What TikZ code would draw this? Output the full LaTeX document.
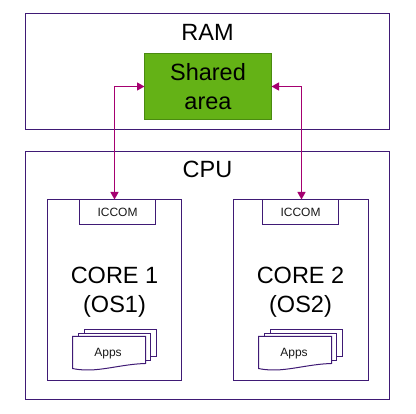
\documentclass[tikz,border=0pt]{standalone}
\usepackage{fontspec}
\setmainfont{Liberation Sans}
\usetikzlibrary{arrows.meta}
\definecolor{boxline}{HTML}{3F1A75}
\definecolor{arrowc}{HTML}{A50070}
\definecolor{sharedfill}{HTML}{64B216}
\definecolor{sharedline}{HTML}{4A8A10}
\tikzset{
  x=1pt,y=-1pt,
  every node/.style={outer sep=0pt},
  framebox/.style={draw=boxline,line width=1pt,fill=white},
  corebox/.style={draw=boxline,line width=1pt,inner sep=0pt,anchor=north west},
  big/.style={font=\fontsize{23.5}{29.5}\selectfont,inner sep=0pt,align=center,text=black},
  small/.style={font=\fontsize{12}{14}\selectfont,inner sep=0pt,text=black!90},
  link/.style={draw=arrowc,line width=1.1pt,{Triangle[length=7.5pt,width=8pt]}-{Triangle[length=7.5pt,width=8pt]}},
  docshape/.style={draw=boxline,line width=1pt,fill=white},
}
\begin{document}
\begin{tikzpicture}
\useasboundingbox (0,0) rectangle (416,414);
% RAM
\draw[framebox] (25.5,13.5) rectangle (389.5,129.5);
\node[big] (ram) at (207.5,32.5) {RAM};
\node[corebox,draw=sharedline,fill=sharedfill,minimum width=127pt,minimum height=66pt,big] (shared) at (144.5,53.5) {Shared\\area};
% CPU
\draw[framebox] (25.5,151.5) rectangle (389.5,399.5);
\node[big] (cpu) at (207.5,169.5) {CPU};
% Core 1
\node[corebox,minimum width=134pt,minimum height=181pt] (core1) at (47.5,199.5) {};
\node[corebox,minimum width=76pt,minimum height=25.5pt,small] (iccom1) at (79.5,199.5) {ICCOM};
\node[big] (label1) at (114.5,292.2) {CORE 1\\(OS1)};
% Core 2
\node[corebox,minimum width=135pt,minimum height=181pt] (core2) at (233.5,199.5) {};
\node[corebox,minimum width=76pt,minimum height=25.5pt,small] (iccom2) at (262.5,199.5) {ICCOM};
\node[big] (label2) at (300.5,292.2) {CORE 2\\(OS2)};
% Apps stacks
\foreach \dx/\nm in {0/appsa,186/appsb}{
  \begin{scope}[shift={(\dx,0)}]
    \draw[docshape] (84.5,329.5) -- (156.5,329.5) -- (156.5,356.5) -- (84.5,356.5) -- cycle;
    \draw[docshape] (78.5,333.5) -- (150.5,333.5) -- (150.5,360.5) -- (78.5,360.5) -- cycle;
    \draw[docshape] (72.5,336.5) -- (145.5,336.5) -- (145.5,363.5)
      .. controls (125,364) and (105,370) .. (88,370)
      .. controls (82,370) and (77,369.5) .. (72.5,368.5) -- cycle;
    \node[small] (\nm) at (108,353.5) {Apps};
  \end{scope}
}
% Connectors
\coordinate (bend1) at (114.5,86.5);
\coordinate (bend2) at (301.5,86.5);
\draw[link] (shared.west) -- (bend1) -- (bend1 |- core1.north);
\draw[link] (shared.east) -- (bend2) -- (bend2 |- core2.north);
\end{tikzpicture}
\end{document}
